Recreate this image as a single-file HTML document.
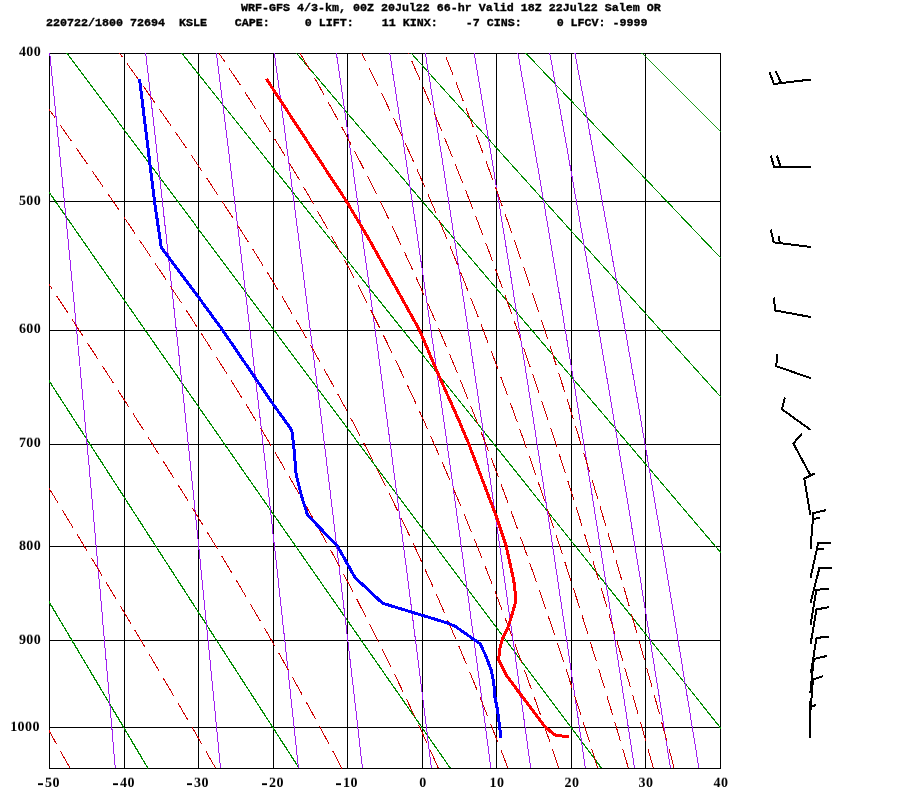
<!DOCTYPE html><html><head><meta charset="utf-8"><style>
html,body{margin:0;padding:0;background:#fff}
body{width:900px;height:800px;position:relative;overflow:hidden}
.t{position:absolute;font-family:"Liberation Mono",monospace;font-weight:bold;font-size:11.67px;letter-spacing:0px;white-space:pre;line-height:13px;color:#000;will-change:transform;-webkit-text-stroke:0.35px #000}
.l{position:absolute;font-family:"Liberation Serif",serif;font-weight:bold;font-size:14px;line-height:13px;color:#000;white-space:pre;letter-spacing:0.4px;transform:scaleY(0.93);transform-origin:50% 80%;will-change:transform}
.yl{width:39.8px;left:0;text-align:right}
.xl{width:60px;text-align:center}
.d{display:inline-block;width:5px;height:2px;background:#000;vertical-align:2.5px;margin-right:2px}
</style></head><body>
<svg width="900" height="800" viewBox="0 0 900 800" style="position:absolute;left:0;top:0">
<defs><clipPath id="c"><rect x="49" y="53" width="672" height="716"/></clipPath></defs>
<g stroke="#000" stroke-width="1" fill="none" shape-rendering="crispEdges">
<path d="M49.5,53 V769"/>
<path d="M124.5,53 V769"/>
<path d="M198.5,53 V769"/>
<path d="M273.5,53 V769"/>
<path d="M347.5,53 V769"/>
<path d="M422.5,53 V769"/>
<path d="M496.5,53 V769"/>
<path d="M571.5,53 V769"/>
<path d="M645.5,53 V769"/>
<path d="M720.5,53 V769"/>
<path d="M49,53.5 H721"/>
<path d="M49,201.5 H721"/>
<path d="M49,330.5 H721"/>
<path d="M49,444.5 H721"/>
<path d="M49,546.5 H721"/>
<path d="M49,640.5 H721"/>
<path d="M49,727.5 H721"/>
<path d="M49,768.5 H721"/>
</g>
<g clip-path="url(#c)" fill="none" shape-rendering="crispEdges">
<path d="M-277.3,53.0 L148.0,768.3" stroke="#008b00" stroke-width="1.29"/>
<path d="M-162.6,53.0 L299.2,768.3" stroke="#008b00" stroke-width="1.26"/>
<path d="M-47.9,53.0 L450.4,768.3" stroke="#008b00" stroke-width="1.23"/>
<path d="M66.8,53.0 L601.6,768.3" stroke="#008b00" stroke-width="1.20"/>
<path d="M181.6,53.0 L752.8,768.3" stroke="#008b00" stroke-width="1.17"/>
<path d="M296.3,53.0 L904.0,768.3" stroke="#008b00" stroke-width="1.14"/>
<path d="M411.0,53.0 L1055.2,768.3" stroke="#008b00" stroke-width="1.11"/>
<path d="M525.7,53.0 L1206.4,768.3" stroke="#008b00" stroke-width="1.09"/>
<path d="M640.5,53.0 L1357.6,768.3" stroke="#008b00" stroke-width="0.88"/>
<path d="M755.2,53.0 L1508.8,768.3" stroke="#008b00" stroke-width="0.86"/>
<path d="M49.7,53.0 L50.5,61.0 L51.3,69.1 L52.1,77.1 L52.9,85.1 L53.7,93.2 L54.5,101.2 L55.3,109.3 L56.1,117.3 L56.9,125.3 L57.7,133.4 L58.5,141.4 L59.3,149.4 L60.1,157.5 L60.9,165.5 L61.7,173.6 L62.5,181.6 L63.2,189.6 L64.0,197.7 L64.8,205.7 L65.6,213.7 L66.3,221.8 L67.1,229.8 L67.9,237.9 L68.6,245.9 L69.4,253.9 L70.2,262.0 L70.9,270.0 L71.7,278.0 L72.5,286.1 L73.2,294.1 L74.0,302.1 L74.7,310.2 L75.5,318.2 L76.2,326.3 L77.0,334.3 L77.7,342.3 L78.5,350.4 L79.2,358.4 L80.0,366.4 L80.7,374.5 L81.4,382.5 L82.2,390.6 L82.9,398.6 L83.7,406.6 L84.4,414.7 L85.1,422.7 L85.8,430.7 L86.6,438.8 L87.3,446.8 L88.0,454.9 L88.8,462.9 L89.5,470.9 L90.2,479.0 L90.9,487.0 L91.6,495.0 L92.4,503.1 L93.1,511.1 L93.8,519.2 L94.5,527.2 L95.2,535.2 L95.9,543.3 L96.6,551.3 L97.3,559.3 L98.0,567.4 L98.7,575.4 L99.5,583.4 L100.2,591.5 L100.9,599.5 L101.6,607.6 L102.3,615.6 L102.9,623.6 L103.6,631.7 L104.3,639.7 L105.0,647.7 L105.7,655.8 L106.4,663.8 L107.1,671.9 L107.8,679.9 L108.5,687.9 L109.2,696.0 L109.8,704.0 L110.5,712.0 L111.2,720.1 L111.9,728.1 L112.6,736.2 L113.2,744.2 L113.9,752.2 L114.6,760.3 L115.3,768.3" stroke="#a020f0" stroke-width="1"/>
<path d="M145.7,53.0 L146.6,61.0 L147.5,69.1 L148.5,77.1 L149.4,85.1 L150.3,93.2 L151.2,101.2 L152.1,109.3 L153.0,117.3 L153.9,125.3 L154.8,133.4 L155.7,141.4 L156.6,149.4 L157.5,157.5 L158.4,165.5 L159.3,173.6 L160.2,181.6 L161.1,189.6 L162.0,197.7 L162.9,205.7 L163.7,213.7 L164.6,221.8 L165.5,229.8 L166.4,237.9 L167.2,245.9 L168.1,253.9 L169.0,262.0 L169.9,270.0 L170.7,278.0 L171.6,286.1 L172.5,294.1 L173.3,302.1 L174.2,310.2 L175.0,318.2 L175.9,326.3 L176.7,334.3 L177.6,342.3 L178.5,350.4 L179.3,358.4 L180.1,366.4 L181.0,374.5 L181.8,382.5 L182.7,390.6 L183.5,398.6 L184.4,406.6 L185.2,414.7 L186.0,422.7 L186.9,430.7 L187.7,438.8 L188.5,446.8 L189.4,454.9 L190.2,462.9 L191.0,470.9 L191.8,479.0 L192.7,487.0 L193.5,495.0 L194.3,503.1 L195.1,511.1 L195.9,519.2 L196.7,527.2 L197.6,535.2 L198.4,543.3 L199.2,551.3 L200.0,559.3 L200.8,567.4 L201.6,575.4 L202.4,583.4 L203.2,591.5 L204.0,599.5 L204.8,607.6 L205.6,615.6 L206.4,623.6 L207.2,631.7 L208.0,639.7 L208.8,647.7 L209.6,655.8 L210.4,663.8 L211.1,671.9 L211.9,679.9 L212.7,687.9 L213.5,696.0 L214.3,704.0 L215.1,712.0 L215.8,720.1 L216.6,728.1 L217.4,736.2 L218.2,744.2 L218.9,752.2 L219.7,760.3 L220.5,768.3" stroke="#a020f0" stroke-width="1"/>
<path d="M216.4,53.0 L217.4,61.0 L218.4,69.1 L219.4,77.1 L220.4,85.1 L221.4,93.2 L222.4,101.2 L223.4,109.3 L224.4,117.3 L225.4,125.3 L226.4,133.4 L227.4,141.4 L228.4,149.4 L229.4,157.5 L230.3,165.5 L231.3,173.6 L232.3,181.6 L233.3,189.6 L234.2,197.7 L235.2,205.7 L236.2,213.7 L237.1,221.8 L238.1,229.8 L239.1,237.9 L240.0,245.9 L241.0,253.9 L241.9,262.0 L242.9,270.0 L243.8,278.0 L244.8,286.1 L245.7,294.1 L246.7,302.1 L247.6,310.2 L248.5,318.2 L249.5,326.3 L250.4,334.3 L251.4,342.3 L252.3,350.4 L253.2,358.4 L254.1,366.4 L255.1,374.5 L256.0,382.5 L256.9,390.6 L257.8,398.6 L258.8,406.6 L259.7,414.7 L260.6,422.7 L261.5,430.7 L262.4,438.8 L263.3,446.8 L264.2,454.9 L265.2,462.9 L266.1,470.9 L267.0,479.0 L267.9,487.0 L268.8,495.0 L269.7,503.1 L270.6,511.1 L271.5,519.2 L272.3,527.2 L273.2,535.2 L274.1,543.3 L275.0,551.3 L275.9,559.3 L276.8,567.4 L277.7,575.4 L278.6,583.4 L279.4,591.5 L280.3,599.5 L281.2,607.6 L282.1,615.6 L282.9,623.6 L283.8,631.7 L284.7,639.7 L285.6,647.7 L286.4,655.8 L287.3,663.8 L288.2,671.9 L289.0,679.9 L289.9,687.9 L290.7,696.0 L291.6,704.0 L292.5,712.0 L293.3,720.1 L294.2,728.1 L295.0,736.2 L295.9,744.2 L296.7,752.2 L297.6,760.3 L298.4,768.3" stroke="#a020f0" stroke-width="1"/>
<path d="M274.3,53.0 L275.4,61.0 L276.5,69.1 L277.6,77.1 L278.6,85.1 L279.7,93.2 L280.8,101.2 L281.8,109.3 L282.9,117.3 L284.0,125.3 L285.0,133.4 L286.1,141.4 L287.1,149.4 L288.2,157.5 L289.2,165.5 L290.3,173.6 L291.3,181.6 L292.4,189.6 L293.4,197.7 L294.5,205.7 L295.5,213.7 L296.5,221.8 L297.6,229.8 L298.6,237.9 L299.6,245.9 L300.7,253.9 L301.7,262.0 L302.7,270.0 L303.7,278.0 L304.8,286.1 L305.8,294.1 L306.8,302.1 L307.8,310.2 L308.8,318.2 L309.8,326.3 L310.8,334.3 L311.8,342.3 L312.8,350.4 L313.8,358.4 L314.8,366.4 L315.8,374.5 L316.8,382.5 L317.8,390.6 L318.8,398.6 L319.8,406.6 L320.8,414.7 L321.8,422.7 L322.8,430.7 L323.7,438.8 L324.7,446.8 L325.7,454.9 L326.7,462.9 L327.6,470.9 L328.6,479.0 L329.6,487.0 L330.6,495.0 L331.5,503.1 L332.5,511.1 L333.5,519.2 L334.4,527.2 L335.4,535.2 L336.3,543.3 L337.3,551.3 L338.2,559.3 L339.2,567.4 L340.1,575.4 L341.1,583.4 L342.0,591.5 L343.0,599.5 L343.9,607.6 L344.9,615.6 L345.8,623.6 L346.8,631.7 L347.7,639.7 L348.6,647.7 L349.6,655.8 L350.5,663.8 L351.4,671.9 L352.4,679.9 L353.3,687.9 L354.2,696.0 L355.1,704.0 L356.1,712.0 L357.0,720.1 L357.9,728.1 L358.8,736.2 L359.7,744.2 L360.6,752.2 L361.6,760.3 L362.5,768.3" stroke="#a020f0" stroke-width="1"/>
<path d="M336.4,53.0 L337.5,61.0 L338.7,69.1 L339.9,77.1 L341.0,85.1 L342.2,93.2 L343.3,101.2 L344.5,109.3 L345.6,117.3 L346.8,125.3 L347.9,133.4 L349.0,141.4 L350.2,149.4 L351.3,157.5 L352.5,165.5 L353.6,173.6 L354.7,181.6 L355.8,189.6 L357.0,197.7 L358.1,205.7 L359.2,213.7 L360.3,221.8 L361.4,229.8 L362.5,237.9 L363.6,245.9 L364.7,253.9 L365.9,262.0 L367.0,270.0 L368.1,278.0 L369.2,286.1 L370.2,294.1 L371.3,302.1 L372.4,310.2 L373.5,318.2 L374.6,326.3 L375.7,334.3 L376.8,342.3 L377.9,350.4 L378.9,358.4 L380.0,366.4 L381.1,374.5 L382.2,382.5 L383.2,390.6 L384.3,398.6 L385.4,406.6 L386.4,414.7 L387.5,422.7 L388.5,430.7 L389.6,438.8 L390.7,446.8 L391.7,454.9 L392.8,462.9 L393.8,470.9 L394.9,479.0 L395.9,487.0 L397.0,495.0 L398.0,503.1 L399.0,511.1 L400.1,519.2 L401.1,527.2 L402.2,535.2 L403.2,543.3 L404.2,551.3 L405.2,559.3 L406.3,567.4 L407.3,575.4 L408.3,583.4 L409.3,591.5 L410.4,599.5 L411.4,607.6 L412.4,615.6 L413.4,623.6 L414.4,631.7 L415.4,639.7 L416.5,647.7 L417.5,655.8 L418.5,663.8 L419.5,671.9 L420.5,679.9 L421.5,687.9 L422.5,696.0 L423.5,704.0 L424.5,712.0 L425.5,720.1 L426.5,728.1 L427.5,736.2 L428.4,744.2 L429.4,752.2 L430.4,760.3 L431.4,768.3" stroke="#a020f0" stroke-width="1"/>
<path d="M389.7,53.0 L391.0,61.0 L392.2,69.1 L393.4,77.1 L394.7,85.1 L395.9,93.2 L397.1,101.2 L398.3,109.3 L399.6,117.3 L400.8,125.3 L402.0,133.4 L403.2,141.4 L404.4,149.4 L405.6,157.5 L406.8,165.5 L408.0,173.6 L409.2,181.6 L410.4,189.6 L411.6,197.7 L412.8,205.7 L414.0,213.7 L415.2,221.8 L416.4,229.8 L417.5,237.9 L418.7,245.9 L419.9,253.9 L421.1,262.0 L422.3,270.0 L423.4,278.0 L424.6,286.1 L425.8,294.1 L426.9,302.1 L428.1,310.2 L429.2,318.2 L430.4,326.3 L431.5,334.3 L432.7,342.3 L433.9,350.4 L435.0,358.4 L436.1,366.4 L437.3,374.5 L438.4,382.5 L439.6,390.6 L440.7,398.6 L441.8,406.6 L443.0,414.7 L444.1,422.7 L445.2,430.7 L446.4,438.8 L447.5,446.8 L448.6,454.9 L449.7,462.9 L450.8,470.9 L452.0,479.0 L453.1,487.0 L454.2,495.0 L455.3,503.1 L456.4,511.1 L457.5,519.2 L458.6,527.2 L459.7,535.2 L460.8,543.3 L461.9,551.3 L463.0,559.3 L464.1,567.4 L465.2,575.4 L466.3,583.4 L467.4,591.5 L468.5,599.5 L469.6,607.6 L470.6,615.6 L471.7,623.6 L472.8,631.7 L473.9,639.7 L475.0,647.7 L476.0,655.8 L477.1,663.8 L478.2,671.9 L479.2,679.9 L480.3,687.9 L481.4,696.0 L482.4,704.0 L483.5,712.0 L484.6,720.1 L485.6,728.1 L486.7,736.2 L487.7,744.2 L488.8,752.2 L489.8,760.3 L490.9,768.3" stroke="#a020f0" stroke-width="1"/>
<path d="M425.3,53.0 L426.6,61.0 L427.9,69.1 L429.2,77.1 L430.5,85.1 L431.7,93.2 L433.0,101.2 L434.3,109.3 L435.6,117.3 L436.8,125.3 L438.1,133.4 L439.3,141.4 L440.6,149.4 L441.9,157.5 L443.1,165.5 L444.4,173.6 L445.6,181.6 L446.8,189.6 L448.1,197.7 L449.3,205.7 L450.6,213.7 L451.8,221.8 L453.0,229.8 L454.3,237.9 L455.5,245.9 L456.7,253.9 L457.9,262.0 L459.2,270.0 L460.4,278.0 L461.6,286.1 L462.8,294.1 L464.0,302.1 L465.2,310.2 L466.4,318.2 L467.6,326.3 L468.8,334.3 L470.0,342.3 L471.2,350.4 L472.4,358.4 L473.6,366.4 L474.8,374.5 L476.0,382.5 L477.2,390.6 L478.4,398.6 L479.6,406.6 L480.7,414.7 L481.9,422.7 L483.1,430.7 L484.3,438.8 L485.4,446.8 L486.6,454.9 L487.8,462.9 L488.9,470.9 L490.1,479.0 L491.3,487.0 L492.4,495.0 L493.6,503.1 L494.7,511.1 L495.9,519.2 L497.0,527.2 L498.2,535.2 L499.3,543.3 L500.5,551.3 L501.6,559.3 L502.8,567.4 L503.9,575.4 L505.0,583.4 L506.2,591.5 L507.3,599.5 L508.4,607.6 L509.6,615.6 L510.7,623.6 L511.8,631.7 L512.9,639.7 L514.1,647.7 L515.2,655.8 L516.3,663.8 L517.4,671.9 L518.5,679.9 L519.6,687.9 L520.8,696.0 L521.9,704.0 L523.0,712.0 L524.1,720.1 L525.2,728.1 L526.3,736.2 L527.4,744.2 L528.5,752.2 L529.6,760.3 L530.7,768.3" stroke="#a020f0" stroke-width="1"/>
<path d="M474.1,53.0 L475.5,61.0 L476.8,69.1 L478.2,77.1 L479.5,85.1 L480.9,93.2 L482.2,101.2 L483.5,109.3 L484.9,117.3 L486.2,125.3 L487.6,133.4 L488.9,141.4 L490.2,149.4 L491.5,157.5 L492.9,165.5 L494.2,173.6 L495.5,181.6 L496.8,189.6 L498.1,197.7 L499.4,205.7 L500.7,213.7 L502.0,221.8 L503.3,229.8 L504.6,237.9 L505.9,245.9 L507.2,253.9 L508.5,262.0 L509.8,270.0 L511.1,278.0 L512.4,286.1 L513.6,294.1 L514.9,302.1 L516.2,310.2 L517.5,318.2 L518.7,326.3 L520.0,334.3 L521.3,342.3 L522.5,350.4 L523.8,358.4 L525.1,366.4 L526.3,374.5 L527.6,382.5 L528.8,390.6 L530.1,398.6 L531.3,406.6 L532.6,414.7 L533.8,422.7 L535.1,430.7 L536.3,438.8 L537.5,446.8 L538.8,454.9 L540.0,462.9 L541.2,470.9 L542.5,479.0 L543.7,487.0 L544.9,495.0 L546.1,503.1 L547.4,511.1 L548.6,519.2 L549.8,527.2 L551.0,535.2 L552.2,543.3 L553.4,551.3 L554.6,559.3 L555.8,567.4 L557.0,575.4 L558.2,583.4 L559.4,591.5 L560.6,599.5 L561.8,607.6 L563.0,615.6 L564.2,623.6 L565.4,631.7 L566.6,639.7 L567.8,647.7 L569.0,655.8 L570.2,663.8 L571.3,671.9 L572.5,679.9 L573.7,687.9 L574.9,696.0 L576.0,704.0 L577.2,712.0 L578.4,720.1 L579.5,728.1 L580.7,736.2 L581.9,744.2 L583.0,752.2 L584.2,760.3 L585.4,768.3" stroke="#a020f0" stroke-width="1"/>
<path d="M517.8,53.0 L519.3,61.0 L520.7,69.1 L522.1,77.1 L523.5,85.1 L524.9,93.2 L526.3,101.2 L527.7,109.3 L529.1,117.3 L530.5,125.3 L531.9,133.4 L533.3,141.4 L534.7,149.4 L536.1,157.5 L537.5,165.5 L538.9,173.6 L540.2,181.6 L541.6,189.6 L543.0,197.7 L544.4,205.7 L545.7,213.7 L547.1,221.8 L548.5,229.8 L549.8,237.9 L551.2,245.9 L552.5,253.9 L553.9,262.0 L555.2,270.0 L556.6,278.0 L557.9,286.1 L559.3,294.1 L560.6,302.1 L562.0,310.2 L563.3,318.2 L564.6,326.3 L566.0,334.3 L567.3,342.3 L568.6,350.4 L569.9,358.4 L571.3,366.4 L572.6,374.5 L573.9,382.5 L575.2,390.6 L576.5,398.6 L577.8,406.6 L579.1,414.7 L580.4,422.7 L581.7,430.7 L583.0,438.8 L584.3,446.8 L585.6,454.9 L586.9,462.9 L588.2,470.9 L589.5,479.0 L590.8,487.0 L592.1,495.0 L593.4,503.1 L594.6,511.1 L595.9,519.2 L597.2,527.2 L598.5,535.2 L599.7,543.3 L601.0,551.3 L602.3,559.3 L603.5,567.4 L604.8,575.4 L606.1,583.4 L607.3,591.5 L608.6,599.5 L609.8,607.6 L611.1,615.6 L612.3,623.6 L613.6,631.7 L614.8,639.7 L616.1,647.7 L617.3,655.8 L618.6,663.8 L619.8,671.9 L621.0,679.9 L622.3,687.9 L623.5,696.0 L624.7,704.0 L626.0,712.0 L627.2,720.1 L628.4,728.1 L629.6,736.2 L630.9,744.2 L632.1,752.2 L633.3,760.3 L634.5,768.3" stroke="#a020f0" stroke-width="1"/>
<path d="M549.7,53.0 L551.2,61.0 L552.7,69.1 L554.1,77.1 L555.6,85.1 L557.1,93.2 L558.5,101.2 L560.0,109.3 L561.4,117.3 L562.9,125.3 L564.3,133.4 L565.7,141.4 L567.2,149.4 L568.6,157.5 L570.0,165.5 L571.5,173.6 L572.9,181.6 L574.3,189.6 L575.7,197.7 L577.2,205.7 L578.6,213.7 L580.0,221.8 L581.4,229.8 L582.8,237.9 L584.2,245.9 L585.6,253.9 L587.0,262.0 L588.4,270.0 L589.8,278.0 L591.2,286.1 L592.6,294.1 L594.0,302.1 L595.3,310.2 L596.7,318.2 L598.1,326.3 L599.5,334.3 L600.9,342.3 L602.2,350.4 L603.6,358.4 L605.0,366.4 L606.3,374.5 L607.7,382.5 L609.1,390.6 L610.4,398.6 L611.8,406.6 L613.1,414.7 L614.5,422.7 L615.8,430.7 L617.2,438.8 L618.5,446.8 L619.8,454.9 L621.2,462.9 L622.5,470.9 L623.9,479.0 L625.2,487.0 L626.5,495.0 L627.8,503.1 L629.2,511.1 L630.5,519.2 L631.8,527.2 L633.1,535.2 L634.4,543.3 L635.8,551.3 L637.1,559.3 L638.4,567.4 L639.7,575.4 L641.0,583.4 L642.3,591.5 L643.6,599.5 L644.9,607.6 L646.2,615.6 L647.5,623.6 L648.8,631.7 L650.1,639.7 L651.4,647.7 L652.6,655.8 L653.9,663.8 L655.2,671.9 L656.5,679.9 L657.8,687.9 L659.1,696.0 L660.3,704.0 L661.6,712.0 L662.9,720.1 L664.1,728.1 L665.4,736.2 L666.7,744.2 L667.9,752.2 L669.2,760.3 L670.5,768.3" stroke="#a020f0" stroke-width="1"/>
<path d="M574.9,53.0 L576.4,61.0 L577.9,69.1 L579.4,77.1 L580.9,85.1 L582.4,93.2 L583.9,101.2 L585.4,109.3 L586.9,117.3 L588.4,125.3 L589.8,133.4 L591.3,141.4 L592.8,149.4 L594.3,157.5 L595.7,165.5 L597.2,173.6 L598.7,181.6 L600.1,189.6 L601.6,197.7 L603.0,205.7 L604.5,213.7 L605.9,221.8 L607.4,229.8 L608.8,237.9 L610.3,245.9 L611.7,253.9 L613.1,262.0 L614.6,270.0 L616.0,278.0 L617.4,286.1 L618.9,294.1 L620.3,302.1 L621.7,310.2 L623.1,318.2 L624.5,326.3 L626.0,334.3 L627.4,342.3 L628.8,350.4 L630.2,358.4 L631.6,366.4 L633.0,374.5 L634.4,382.5 L635.8,390.6 L637.2,398.6 L638.6,406.6 L640.0,414.7 L641.3,422.7 L642.7,430.7 L644.1,438.8 L645.5,446.8 L646.9,454.9 L648.2,462.9 L649.6,470.9 L651.0,479.0 L652.3,487.0 L653.7,495.0 L655.1,503.1 L656.4,511.1 L657.8,519.2 L659.2,527.2 L660.5,535.2 L661.9,543.3 L663.2,551.3 L664.6,559.3 L665.9,567.4 L667.2,575.4 L668.6,583.4 L669.9,591.5 L671.3,599.5 L672.6,607.6 L673.9,615.6 L675.3,623.6 L676.6,631.7 L677.9,639.7 L679.2,647.7 L680.6,655.8 L681.9,663.8 L683.2,671.9 L684.5,679.9 L685.8,687.9 L687.1,696.0 L688.5,704.0 L689.8,712.0 L691.1,720.1 L692.4,728.1 L693.7,736.2 L695.0,744.2 L696.3,752.2 L697.6,760.3 L698.9,768.3" stroke="#a020f0" stroke-width="1"/>
<path d="M70.1,768.3 L65.6,760.3 L61.1,752.2 L56.6,744.2 L52.1,736.2 L47.6,728.1 L43.0,720.1 L38.5,712.0 L34.0,704.0 L29.5,696.0 L25.0,687.9 L20.4,679.9 L15.9,671.9 L11.4,663.8 L6.9,655.8 L2.3,647.7 L-2.2,639.7 L-6.7,631.7 L-11.3,623.6 L-15.8,615.6 L-20.4,607.6 L-24.9,599.5 L-29.4,591.5 L-34.0,583.4 L-38.5,575.4 L-43.1,567.4 L-47.6,559.3 L-52.2,551.3 L-56.7,543.3 L-61.3,535.2 L-65.8,527.2 L-70.4,519.2 L-74.9,511.1 L-79.5,503.1 L-84.0,495.0 L-88.6,487.0 L-93.1,479.0 L-97.7,470.9 L-102.2,462.9 L-106.8,454.9 L-111.3,446.8 L-115.9,438.8 L-120.5,430.7 L-125.0,422.7 L-129.6,414.7 L-134.1,406.6 L-138.7,398.6 L-143.3,390.6 L-147.8,382.5 L-152.4,374.5 L-156.9,366.4 L-161.5,358.4 L-166.0,350.4 L-170.6,342.3 L-175.2,334.3 L-179.7,326.3 L-184.3,318.2 L-188.8,310.2 L-193.4,302.1 L-198.0,294.1 L-202.5,286.1 L-207.1,278.0 L-211.7,270.0 L-216.2,262.0 L-220.8,253.9 L-225.3,245.9 L-229.9,237.9 L-234.5,229.8 L-239.0,221.8 L-243.6,213.7 L-248.1,205.7 L-252.7,197.7 L-257.3,189.6 L-261.8,181.6 L-266.4,173.6 L-271.0,165.5 L-275.5,157.5 L-280.1,149.4 L-284.6,141.4 L-289.2,133.4 L-293.8,125.3 L-298.3,117.3 L-302.9,109.3 L-307.5,101.2 L-312.0,93.2 L-316.6,85.1 L-321.2,77.1 L-325.7,69.1 L-330.3,61.0 L-334.8,53.0" stroke="#cd0000" stroke-width="1" stroke-dasharray="20 8"/>
<path d="M215.7,768.3 L211.1,760.3 L206.5,752.2 L201.9,744.2 L197.2,736.2 L192.6,728.1 L187.9,720.1 L183.2,712.0 L178.5,704.0 L173.8,696.0 L169.1,687.9 L164.3,679.9 L159.6,671.9 L154.8,663.8 L150.1,655.8 L145.3,647.7 L140.5,639.7 L135.7,631.7 L130.9,623.6 L126.1,615.6 L121.3,607.6 L116.5,599.5 L111.7,591.5 L106.8,583.4 L102.0,575.4 L97.1,567.4 L92.3,559.3 L87.4,551.3 L82.5,543.3 L77.7,535.2 L72.8,527.2 L67.9,519.2 L63.0,511.1 L58.1,503.1 L53.2,495.0 L48.3,487.0 L43.4,479.0 L38.5,470.9 L33.6,462.9 L28.7,454.9 L23.8,446.8 L18.9,438.8 L13.9,430.7 L9.0,422.7 L4.1,414.7 L-0.9,406.6 L-5.8,398.6 L-10.7,390.6 L-15.7,382.5 L-20.6,374.5 L-25.6,366.4 L-30.5,358.4 L-35.5,350.4 L-40.4,342.3 L-45.4,334.3 L-50.3,326.3 L-55.3,318.2 L-60.2,310.2 L-65.2,302.1 L-70.1,294.1 L-75.1,286.1 L-80.1,278.0 L-85.0,270.0 L-90.0,262.0 L-94.9,253.9 L-99.9,245.9 L-104.9,237.9 L-109.8,229.8 L-114.8,221.8 L-119.8,213.7 L-124.7,205.7 L-129.7,197.7 L-134.7,189.6 L-139.6,181.6 L-144.6,173.6 L-149.6,165.5 L-154.6,157.5 L-159.5,149.4 L-164.5,141.4 L-169.5,133.4 L-174.4,125.3 L-179.4,117.3 L-184.4,109.3 L-189.4,101.2 L-194.3,93.2 L-199.3,85.1 L-204.3,77.1 L-209.3,69.1 L-214.2,61.0 L-219.2,53.0" stroke="#cd0000" stroke-width="1" stroke-dasharray="20 8"/>
<path d="M341.9,768.3 L337.6,760.3 L333.4,752.2 L329.1,744.2 L324.8,736.2 L320.5,728.1 L316.1,720.1 L311.7,712.0 L307.3,704.0 L302.9,696.0 L298.4,687.9 L293.9,679.9 L289.4,671.9 L284.8,663.8 L280.3,655.8 L275.7,647.7 L271.1,639.7 L266.5,631.7 L261.8,623.6 L257.1,615.6 L252.4,607.6 L247.7,599.5 L242.9,591.5 L238.2,583.4 L233.4,575.4 L228.6,567.4 L223.7,559.3 L218.9,551.3 L214.0,543.3 L209.1,535.2 L204.2,527.2 L199.3,519.2 L194.3,511.1 L189.4,503.1 L184.4,495.0 L179.4,487.0 L174.4,479.0 L169.3,470.9 L164.3,462.9 L159.2,454.9 L154.1,446.8 L149.1,438.8 L144.0,430.7 L138.8,422.7 L133.7,414.7 L128.6,406.6 L123.4,398.6 L118.2,390.6 L113.1,382.5 L107.9,374.5 L102.7,366.4 L97.5,358.4 L92.3,350.4 L87.0,342.3 L81.8,334.3 L76.6,326.3 L71.3,318.2 L66.1,310.2 L60.8,302.1 L55.5,294.1 L50.2,286.1 L45.0,278.0 L39.7,270.0 L34.4,262.0 L29.1,253.9 L23.8,245.9 L18.5,237.9 L13.2,229.8 L7.8,221.8 L2.5,213.7 L-2.8,205.7 L-8.2,197.7 L-13.5,189.6 L-18.8,181.6 L-24.2,173.6 L-29.5,165.5 L-34.9,157.5 L-40.2,149.4 L-45.6,141.4 L-50.9,133.4 L-56.3,125.3 L-61.6,117.3 L-67.0,109.3 L-72.4,101.2 L-77.7,93.2 L-83.1,85.1 L-88.4,77.1 L-93.8,69.1 L-99.2,61.0 L-104.6,53.0" stroke="#cd0000" stroke-width="1" stroke-dasharray="20 8"/>
<path d="M438.4,768.3 L434.8,760.3 L431.2,752.2 L427.5,744.2 L423.8,736.2 L420.1,728.1 L416.4,720.1 L412.6,712.0 L408.8,704.0 L405.0,696.0 L401.2,687.9 L397.3,679.9 L393.4,671.9 L389.5,663.8 L385.5,655.8 L381.5,647.7 L377.5,639.7 L373.5,631.7 L369.4,623.6 L365.3,615.6 L361.1,607.6 L357.0,599.5 L352.8,591.5 L348.5,583.4 L344.3,575.4 L340.0,567.4 L335.6,559.3 L331.3,551.3 L326.9,543.3 L322.4,535.2 L318.0,527.2 L313.5,519.2 L309.0,511.1 L304.4,503.1 L299.9,495.0 L295.2,487.0 L290.6,479.0 L285.9,470.9 L281.2,462.9 L276.5,454.9 L271.7,446.8 L266.9,438.8 L262.1,430.7 L257.2,422.7 L252.3,414.7 L247.4,406.6 L242.4,398.6 L237.4,390.6 L232.4,382.5 L227.4,374.5 L222.3,366.4 L217.2,358.4 L212.1,350.4 L207.0,342.3 L201.8,334.3 L196.6,326.3 L191.4,318.2 L186.2,310.2 L180.9,302.1 L175.6,294.1 L170.3,286.1 L165.0,278.0 L159.6,270.0 L154.2,262.0 L148.8,253.9 L143.4,245.9 L138.0,237.9 L132.5,229.8 L127.1,221.8 L121.6,213.7 L116.1,205.7 L110.6,197.7 L105.0,189.6 L99.5,181.6 L93.9,173.6 L88.4,165.5 L82.8,157.5 L77.2,149.4 L71.6,141.4 L66.0,133.4 L60.3,125.3 L54.7,117.3 L49.0,109.3 L43.4,101.2 L37.7,93.2 L32.0,85.1 L26.4,77.1 L20.7,69.1 L15.0,61.0 L9.3,53.0" stroke="#cd0000" stroke-width="1" stroke-dasharray="20 8"/>
<path d="M508.0,768.3 L504.9,760.3 L501.8,752.2 L498.7,744.2 L495.5,736.2 L492.3,728.1 L489.2,720.1 L485.9,712.0 L482.7,704.0 L479.5,696.0 L476.2,687.9 L472.9,679.9 L469.6,671.9 L466.2,663.8 L462.9,655.8 L459.5,647.7 L456.1,639.7 L452.6,631.7 L449.2,623.6 L445.7,615.6 L442.2,607.6 L438.6,599.5 L435.1,591.5 L431.5,583.4 L427.8,575.4 L424.2,567.4 L420.5,559.3 L416.8,551.3 L413.1,543.3 L409.3,535.2 L405.5,527.2 L401.7,519.2 L397.8,511.1 L393.9,503.1 L390.0,495.0 L386.0,487.0 L382.0,479.0 L378.0,470.9 L374.0,462.9 L369.9,454.9 L365.7,446.8 L361.6,438.8 L357.4,430.7 L353.2,422.7 L348.9,414.7 L344.6,406.6 L340.3,398.6 L335.9,390.6 L331.5,382.5 L327.0,374.5 L322.6,366.4 L318.0,358.4 L313.5,350.4 L308.9,342.3 L304.2,334.3 L299.6,326.3 L294.9,318.2 L290.1,310.2 L285.3,302.1 L280.5,294.1 L275.6,286.1 L270.7,278.0 L265.8,270.0 L260.8,262.0 L255.8,253.9 L250.7,245.9 L245.7,237.9 L240.5,229.8 L235.4,221.8 L230.2,213.7 L224.9,205.7 L219.7,197.7 L214.3,189.6 L209.0,181.6 L203.6,173.6 L198.2,165.5 L192.8,157.5 L187.3,149.4 L181.8,141.4 L176.3,133.4 L170.7,125.3 L165.1,117.3 L159.5,109.3 L153.8,101.2 L148.2,93.2 L142.5,85.1 L136.7,77.1 L131.0,69.1 L125.2,61.0 L119.4,53.0" stroke="#cd0000" stroke-width="1" stroke-dasharray="20 8"/>
<path d="M558.9,768.3 L556.2,760.3 L553.5,752.2 L550.7,744.2 L547.9,736.2 L545.1,728.1 L542.3,720.1 L539.5,712.0 L536.6,704.0 L533.8,696.0 L530.9,687.9 L528.0,679.9 L525.1,671.9 L522.1,663.8 L519.2,655.8 L516.2,647.7 L513.3,639.7 L510.3,631.7 L507.2,623.6 L504.2,615.6 L501.1,607.6 L498.1,599.5 L495.0,591.5 L491.9,583.4 L488.7,575.4 L485.6,567.4 L482.4,559.3 L479.2,551.3 L476.0,543.3 L472.7,535.2 L469.4,527.2 L466.2,519.2 L462.8,511.1 L459.5,503.1 L456.1,495.0 L452.7,487.0 L449.3,479.0 L445.9,470.9 L442.4,462.9 L438.9,454.9 L435.4,446.8 L431.8,438.8 L428.3,430.7 L424.7,422.7 L421.0,414.7 L417.4,406.6 L413.7,398.6 L409.9,390.6 L406.2,382.5 L402.4,374.5 L398.6,366.4 L394.7,358.4 L390.8,350.4 L386.9,342.3 L382.9,334.3 L378.9,326.3 L374.9,318.2 L370.8,310.2 L366.7,302.1 L362.6,294.1 L358.4,286.1 L354.2,278.0 L349.9,270.0 L345.6,262.0 L341.3,253.9 L336.9,245.9 L332.5,237.9 L328.1,229.8 L323.6,221.8 L319.0,213.7 L314.4,205.7 L309.8,197.7 L305.1,189.6 L300.4,181.6 L295.6,173.6 L290.8,165.5 L286.0,157.5 L281.1,149.4 L276.2,141.4 L271.2,133.4 L266.1,125.3 L261.1,117.3 L255.9,109.3 L250.8,101.2 L245.6,93.2 L240.3,85.1 L235.0,77.1 L229.6,69.1 L224.3,61.0 L218.8,53.0" stroke="#cd0000" stroke-width="1" stroke-dasharray="20 8"/>
<path d="M597.8,768.3 L595.3,760.3 L592.7,752.2 L590.2,744.2 L587.7,736.2 L585.1,728.1 L582.5,720.1 L580.0,712.0 L577.4,704.0 L574.8,696.0 L572.1,687.9 L569.5,679.9 L566.9,671.9 L564.2,663.8 L561.6,655.8 L558.9,647.7 L556.2,639.7 L553.5,631.7 L550.8,623.6 L548.0,615.6 L545.3,607.6 L542.5,599.5 L539.7,591.5 L536.9,583.4 L534.1,575.4 L531.3,567.4 L528.4,559.3 L525.6,551.3 L522.7,543.3 L519.8,535.2 L516.9,527.2 L514.0,519.2 L511.0,511.1 L508.1,503.1 L505.1,495.0 L502.1,487.0 L499.1,479.0 L496.1,470.9 L493.0,462.9 L489.9,454.9 L486.8,446.8 L483.7,438.8 L480.6,430.7 L477.4,422.7 L474.2,414.7 L471.0,406.6 L467.8,398.6 L464.5,390.6 L461.3,382.5 L458.0,374.5 L454.6,366.4 L451.3,358.4 L447.9,350.4 L444.5,342.3 L441.1,334.3 L437.7,326.3 L434.2,318.2 L430.7,310.2 L427.1,302.1 L423.6,294.1 L420.0,286.1 L416.3,278.0 L412.7,270.0 L409.0,262.0 L405.3,253.9 L401.5,245.9 L397.7,237.9 L393.9,229.8 L390.1,221.8 L386.2,213.7 L382.2,205.7 L378.3,197.7 L374.3,189.6 L370.2,181.6 L366.2,173.6 L362.0,165.5 L357.9,157.5 L353.7,149.4 L349.4,141.4 L345.2,133.4 L340.8,125.3 L336.5,117.3 L332.1,109.3 L327.6,101.2 L323.1,93.2 L318.6,85.1 L314.0,77.1 L309.3,69.1 L304.6,61.0 L299.9,53.0" stroke="#cd0000" stroke-width="1" stroke-dasharray="20 8"/>
<path d="M628.4,768.3 L626.1,760.3 L623.7,752.2 L621.3,744.2 L619.0,736.2 L616.6,728.1 L614.2,720.1 L611.8,712.0 L609.3,704.0 L606.9,696.0 L604.5,687.9 L602.0,679.9 L599.6,671.9 L597.1,663.8 L594.6,655.8 L592.1,647.7 L589.6,639.7 L587.1,631.7 L584.6,623.6 L582.1,615.6 L579.5,607.6 L577.0,599.5 L574.4,591.5 L571.8,583.4 L569.2,575.4 L566.6,567.4 L564.0,559.3 L561.4,551.3 L558.7,543.3 L556.1,535.2 L553.4,527.2 L550.7,519.2 L548.0,511.1 L545.3,503.1 L542.6,495.0 L539.9,487.0 L537.1,479.0 L534.4,470.9 L531.6,462.9 L528.8,454.9 L526.0,446.8 L523.2,438.8 L520.3,430.7 L517.5,422.7 L514.6,414.7 L511.7,406.6 L508.8,398.6 L505.8,390.6 L502.9,382.5 L499.9,374.5 L497.0,366.4 L494.0,358.4 L490.9,350.4 L487.9,342.3 L484.8,334.3 L481.8,326.3 L478.7,318.2 L475.6,310.2 L472.4,302.1 L469.2,294.1 L466.1,286.1 L462.9,278.0 L459.6,270.0 L456.4,262.0 L453.1,253.9 L449.8,245.9 L446.5,237.9 L443.1,229.8 L439.7,221.8 L436.3,213.7 L432.9,205.7 L429.4,197.7 L425.9,189.6 L422.4,181.6 L418.9,173.6 L415.3,165.5 L411.7,157.5 L408.0,149.4 L404.3,141.4 L400.6,133.4 L396.9,125.3 L393.1,117.3 L389.3,109.3 L385.5,101.2 L381.6,93.2 L377.7,85.1 L373.7,77.1 L369.7,69.1 L365.7,61.0 L361.6,53.0" stroke="#cd0000" stroke-width="1" stroke-dasharray="20 8"/>
<path d="M653.4,768.3 L651.2,760.3 L648.9,752.2 L646.6,744.2 L644.4,736.2 L642.1,728.1 L639.8,720.1 L637.5,712.0 L635.2,704.0 L632.9,696.0 L630.6,687.9 L628.3,679.9 L625.9,671.9 L623.6,663.8 L621.3,655.8 L618.9,647.7 L616.5,639.7 L614.2,631.7 L611.8,623.6 L609.4,615.6 L607.0,607.6 L604.6,599.5 L602.2,591.5 L599.7,583.4 L597.3,575.4 L594.8,567.4 L592.4,559.3 L589.9,551.3 L587.4,543.3 L584.9,535.2 L582.4,527.2 L579.9,519.2 L577.4,511.1 L574.9,503.1 L572.3,495.0 L569.8,487.0 L567.2,479.0 L564.6,470.9 L562.1,462.9 L559.5,454.9 L556.8,446.8 L554.2,438.8 L551.6,430.7 L548.9,422.7 L546.3,414.7 L543.6,406.6 L540.9,398.6 L538.2,390.6 L535.5,382.5 L532.7,374.5 L530.0,366.4 L527.2,358.4 L524.4,350.4 L521.7,342.3 L518.8,334.3 L516.0,326.3 L513.2,318.2 L510.3,310.2 L507.5,302.1 L504.6,294.1 L501.7,286.1 L498.7,278.0 L495.8,270.0 L492.8,262.0 L489.9,253.9 L486.9,245.9 L483.8,237.9 L480.8,229.8 L477.8,221.8 L474.7,213.7 L471.6,205.7 L468.5,197.7 L465.3,189.6 L462.2,181.6 L459.0,173.6 L455.8,165.5 L452.6,157.5 L449.3,149.4 L446.0,141.4 L442.7,133.4 L439.4,125.3 L436.0,117.3 L432.7,109.3 L429.2,101.2 L425.8,93.2 L422.3,85.1 L418.9,77.1 L415.3,69.1 L411.8,61.0 L408.2,53.0" stroke="#cd0000" stroke-width="1" stroke-dasharray="20 8"/>
<path d="M674.2,768.3 L672.1,760.3 L669.9,752.2 L667.7,744.2 L665.5,736.2 L663.3,728.1 L661.1,720.1 L658.9,712.0 L656.7,704.0 L654.5,696.0 L652.3,687.9 L650.0,679.9 L647.8,671.9 L645.6,663.8 L643.3,655.8 L641.0,647.7 L638.8,639.7 L636.5,631.7 L634.2,623.6 L631.9,615.6 L629.6,607.6 L627.3,599.5 L625.0,591.5 L622.7,583.4 L620.4,575.4 L618.0,567.4 L615.7,559.3 L613.3,551.3 L611.0,543.3 L608.6,535.2 L606.2,527.2 L603.8,519.2 L601.4,511.1 L599.0,503.1 L596.6,495.0 L594.2,487.0 L591.7,479.0 L589.3,470.9 L586.8,462.9 L584.4,454.9 L581.9,446.8 L579.4,438.8 L576.9,430.7 L574.4,422.7 L571.9,414.7 L569.4,406.6 L566.8,398.6 L564.3,390.6 L561.7,382.5 L559.2,374.5 L556.6,366.4 L554.0,358.4 L551.4,350.4 L548.7,342.3 L546.1,334.3 L543.5,326.3 L540.8,318.2 L538.1,310.2 L535.5,302.1 L532.8,294.1 L530.0,286.1 L527.3,278.0 L524.6,270.0 L521.8,262.0 L519.1,253.9 L516.3,245.9 L513.5,237.9 L510.7,229.8 L507.8,221.8 L505.0,213.7 L502.1,205.7 L499.3,197.7 L496.4,189.6 L493.4,181.6 L490.5,173.6 L487.6,165.5 L484.6,157.5 L481.6,149.4 L478.6,141.4 L475.6,133.4 L472.6,125.3 L469.5,117.3 L466.4,109.3 L463.3,101.2 L460.2,93.2 L457.0,85.1 L453.9,77.1 L450.7,69.1 L447.5,61.0 L444.2,53.0" stroke="#cd0000" stroke-width="1" stroke-dasharray="20 8"/>
</g>
<g fill="none" shape-rendering="crispEdges" stroke-linejoin="round">
<path d="M139.5,78.8 L154.5,201.2 L161.2,247.5 L198.7,297.5 L222.5,330.0 L273.7,405.0 L291.7,430.0 L293.7,445.0 L296.2,475.0 L301.2,495.0 L307.5,515.0 L337.5,546.2 L355.0,577.5 L382.5,603.2 L447.5,623.0 L455.0,626.2 L480.0,643.7 L485.5,655.0 L491.2,670.0 L493.7,682.5 L495.0,697.5 L497.5,710.0 L500.0,730.0 L500.5,738.0" stroke="#0000ff" stroke-width="3"/>
<path d="M266.3,78.8 L346.3,201.0 L369.5,240.0 L419.5,330.0 L437.5,372.5 L458.7,420.0 L468.7,443.7 L496.2,516.2 L506.2,546.2 L513.7,580.0 L515.5,595.0 L515.5,602.5 L511.2,617.5 L507.5,628.7 L502.5,638.7 L499.5,650.0 L498.7,660.0 L506.2,675.0 L520.0,693.7 L532.5,710.0 L543.7,725.0 L550.0,731.0 L555.0,735.0 L568.7,737.0" stroke="#ff0000" stroke-width="3"/>
</g>
<g fill="none" stroke="#000" stroke-width="2" shape-rendering="crispEdges">
<path d="M810.7,79.5 L774.0,84.0 L769.4,72.3"/>
<path d="M781.4,83.3 L775.7,71.3"/>
<path d="M810.7,167.0 L774.2,167.0 L770.7,155.5"/>
<path d="M780.7,167.0 L776.9,155.5"/>
<path d="M810.7,247.0 L773.7,242.3 L770.7,229.5"/>
<path d="M779.7,243.0 L778.9,236.2"/>
<path d="M810.7,317.0 L775.2,310.5 L773.9,297.5"/>
<path d="M810.7,378.2 L776.4,366.2 L776.9,353.7"/>
<path d="M810.7,430.0 L781.9,409.2 L784.9,397.5"/>
<path d="M810.3,475.0 L793.4,443.5 L801.8,433.7"/>
<path d="M810.3,515.0 L804.3,478.7 L814.7,473.5"/>
<path d="M810.5,549.0 L813.4,513.1 L825.9,510.2"/>
<path d="M813.8,519.0 L820.0,517.5"/>
<path d="M810.5,578.0 L818.2,543.0 L830.9,542.5"/>
<path d="M817.5,548.7 L824.0,548.7"/>
<path d="M810.5,603.0 L819.4,568.0 L831.9,567.5"/>
<path d="M810.5,625.0 L816.3,590.0 L828.8,588.5"/>
<path d="M810.5,644.4 L816.5,609.4 L828.8,607.2"/>
<path d="M810.9,673.0 L816.5,638.0 L828.8,636.5"/>
<path d="M810.3,693.0 L813.8,659.0 L826.8,656.0"/>
<path d="M810.3,713.0 L813.0,679.4 L822.8,676.2"/>
<path d="M810.3,737.5 L810.3,701.0"/>
<path d="M810.6,707.0 L815.9,705.0"/>
</g>
</svg>
<div class="t" id="t1" style="left:241px;top:1.5px">WRF-GFS 4/3-km, 00Z 20Jul22 66-hr Valid 18Z 22Jul22 Salem OR</div>
<div class="t" id="t2" style="left:46px;top:17px">220722/1800 72694  KSLE    CAPE:     0 LIFT:    11 KINX:    -7 CINS:     0 LFCV: -9999</div>
<div class="l yl" style="top:45px;width:41.1px">400</div>
<div class="l yl" style="top:194px;width:41.1px">500</div>
<div class="l yl" style="top:322px;width:41.1px">600</div>
<div class="l yl" style="top:436px;width:41.1px">700</div>
<div class="l yl" style="top:539px;width:41.1px">800</div>
<div class="l yl" style="top:633px;width:41.1px">900</div>
<div class="l yl" style="top:720px;width:39.8px">1000</div>
<div class="l xl" style="left:19px;top:775.5px"><span class="d"></span>50</div>
<div class="l xl" style="left:94px;top:775.5px"><span class="d"></span>40</div>
<div class="l xl" style="left:168px;top:775.5px"><span class="d"></span>30</div>
<div class="l xl" style="left:243px;top:775.5px"><span class="d"></span>20</div>
<div class="l xl" style="left:317px;top:775.5px"><span class="d"></span>10</div>
<div class="l xl" style="left:392.8px;top:775.5px">0</div>
<div class="l xl" style="left:466.8px;top:775.5px">10</div>
<div class="l xl" style="left:541.8px;top:775.5px">20</div>
<div class="l xl" style="left:615.8px;top:775.5px">30</div>
<div class="l xl" style="left:690.8px;top:775.5px">40</div>
</body></html>
